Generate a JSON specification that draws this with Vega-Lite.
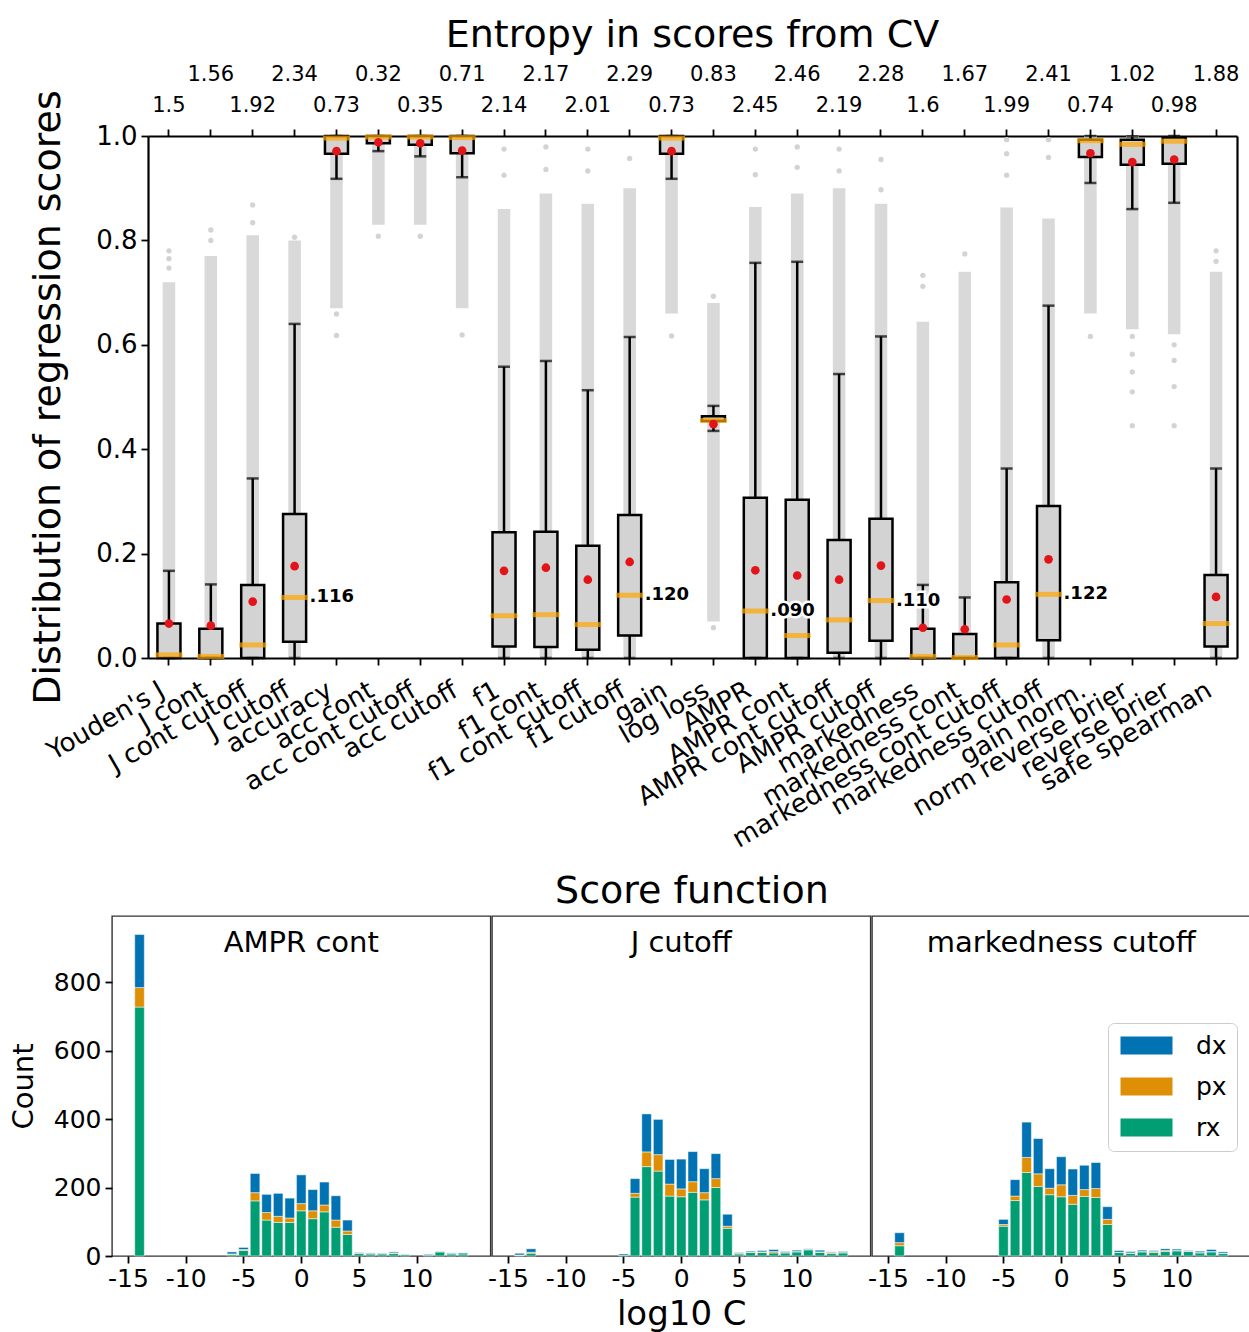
{
"$schema": "https://vega.github.io/schema/vega-lite/v6.json",
"padding": {"left": 8, "top": 17, "right": 0, "bottom": 0},
"params": [
 {"name": "cats", "value": ["Youden's J","J cont","J cont cutoff","J cutoff","accuracy","acc cont","acc cont cutoff","acc cutoff","f1","f1 cont","f1 cont cutoff","f1 cutoff","gain","log loss","AMPR","AMPR cont","AMPR cont cutoff","AMPR cutoff","markedness","markedness cont","markedness cont cutoff","markedness cutoff","gain norm.","norm reverse brier","reverse brier","safe spearman"]},
 {"name": "ent", "value": ["1.5","1.56","1.92","2.34","0.73","0.32","0.35","0.71","2.14","2.17","2.01","2.29","0.73","0.83","2.45","2.46","2.19","2.28","1.6","1.67","1.99","2.41","0.74","1.02","0.98","1.88"]}
],
"datasets": {
 "box": [
  {"c":"Youden's J","wlo":0,"q1":0,"med":0.006,"q3":0.066,"whi":0.167,"mean":0.066,"slo":0,"shi":0.72,"ann":""},
  {"c":"J cont","wlo":0,"q1":0,"med":0.003,"q3":0.056,"whi":0.141,"mean":0.062,"slo":0,"shi":0.77,"ann":""},
  {"c":"J cont cutoff","wlo":0,"q1":0,"med":0.025,"q3":0.14,"whi":0.344,"mean":0.108,"slo":0,"shi":0.81,"ann":""},
  {"c":"J cutoff","wlo":0,"q1":0.031,"med":0.116,"q3":0.276,"whi":0.64,"mean":0.176,"slo":0,"shi":0.8,"ann":".116"},
  {"c":"accuracy","wlo":0.918,"q1":0.966,"med":0.996,"q3":1,"whi":1,"mean":0.971,"slo":0.67,"shi":1,"ann":""},
  {"c":"acc cont","wlo":0.971,"q1":0.986,"med":0.998,"q3":1,"whi":1,"mean":0.988,"slo":0.83,"shi":1,"ann":""},
  {"c":"acc cont cutoff","wlo":0.961,"q1":0.983,"med":0.998,"q3":1,"whi":1,"mean":0.986,"slo":0.83,"shi":1,"ann":""},
  {"c":"acc cutoff","wlo":0.921,"q1":0.967,"med":0.997,"q3":1,"whi":1,"mean":0.972,"slo":0.67,"shi":1,"ann":""},
  {"c":"f1","wlo":0,"q1":0.022,"med":0.081,"q3":0.241,"whi":0.558,"mean":0.167,"slo":0,"shi":0.86,"ann":""},
  {"c":"f1 cont","wlo":0,"q1":0.021,"med":0.083,"q3":0.242,"whi":0.569,"mean":0.173,"slo":0,"shi":0.89,"ann":""},
  {"c":"f1 cont cutoff","wlo":0,"q1":0.016,"med":0.064,"q3":0.215,"whi":0.513,"mean":0.15,"slo":0,"shi":0.87,"ann":""},
  {"c":"f1 cutoff","wlo":0,"q1":0.043,"med":0.12,"q3":0.274,"whi":0.615,"mean":0.184,"slo":0,"shi":0.9,"ann":".120"},
  {"c":"gain","wlo":0.918,"q1":0.966,"med":0.996,"q3":1,"whi":1,"mean":0.971,"slo":0.66,"shi":1,"ann":""},
  {"c":"log loss","wlo":0.435,"q1":0.454,"med":0.455,"q3":0.463,"whi":0.483,"mean":0.448,"slo":0.07,"shi":0.68,"ann":""},
  {"c":"AMPR","wlo":0,"q1":0,"med":0.09,"q3":0.307,"whi":0.757,"mean":0.168,"slo":0,"shi":0.864,"ann":".090"},
  {"c":"AMPR cont","wlo":0,"q1":0,"med":0.043,"q3":0.303,"whi":0.759,"mean":0.158,"slo":0,"shi":0.89,"ann":""},
  {"c":"AMPR cont cutoff","wlo":0,"q1":0.01,"med":0.073,"q3":0.226,"whi":0.544,"mean":0.15,"slo":0,"shi":0.9,"ann":""},
  {"c":"AMPR cutoff","wlo":0,"q1":0.033,"med":0.11,"q3":0.267,"whi":0.616,"mean":0.177,"slo":0,"shi":0.87,"ann":".110"},
  {"c":"markedness","wlo":0,"q1":0,"med":0.003,"q3":0.056,"whi":0.14,"mean":0.058,"slo":0,"shi":0.644,"ann":""},
  {"c":"markedness cont","wlo":0,"q1":0,"med":0.001,"q3":0.046,"whi":0.116,"mean":0.055,"slo":0,"shi":0.74,"ann":""},
  {"c":"markedness cont cutoff","wlo":0,"q1":0,"med":0.025,"q3":0.145,"whi":0.363,"mean":0.112,"slo":0,"shi":0.863,"ann":""},
  {"c":"markedness cutoff","wlo":0,"q1":0.034,"med":0.122,"q3":0.291,"whi":0.675,"mean":0.189,"slo":0,"shi":0.842,"ann":".122"},
  {"c":"gain norm.","wlo":0.91,"q1":0.96,"med":0.991,"q3":0.993,"whi":1,"mean":0.967,"slo":0.66,"shi":1,"ann":""},
  {"c":"norm reverse brier","wlo":0.86,"q1":0.945,"med":0.984,"q3":0.993,"whi":0.999,"mean":0.95,"slo":0.63,"shi":1,"ann":""},
  {"c":"reverse brier","wlo":0.872,"q1":0.947,"med":0.99,"q3":0.997,"whi":1,"mean":0.955,"slo":0.62,"shi":1,"ann":""},
  {"c":"safe spearman","wlo":0,"q1":0.022,"med":0.066,"q3":0.159,"whi":0.363,"mean":0.117,"slo":0,"shi":0.74,"ann":""}
 ],
 "tail": [
  {"c":"Youden's J","v":0.747},{"c":"Youden's J","v":0.765},{"c":"Youden's J","v":0.78},
  {"c":"J cont","v":0.8},{"c":"J cont","v":0.82},
  {"c":"J cont cutoff","v":0.834},{"c":"J cont cutoff","v":0.868},
  {"c":"J cutoff","v":0.806},
  {"c":"accuracy","v":0.659},{"c":"accuracy","v":0.618},
  {"c":"acc cont","v":0.808},
  {"c":"acc cont cutoff","v":0.808},
  {"c":"acc cutoff","v":0.619},
  {"c":"f1","v":0.925},{"c":"f1","v":0.975},
  {"c":"f1 cont","v":0.936},{"c":"f1 cont","v":0.979},
  {"c":"f1 cont cutoff","v":0.933},{"c":"f1 cont cutoff","v":0.975},
  {"c":"f1 cutoff","v":0.957},
  {"c":"gain","v":0.617},
  {"c":"log loss","v":0.058},{"c":"log loss","v":0.693},
  {"c":"AMPR","v":0.926},{"c":"AMPR","v":0.975},
  {"c":"AMPR cont","v":0.94},{"c":"AMPR cont","v":0.979},
  {"c":"AMPR cont cutoff","v":0.933},{"c":"AMPR cont cutoff","v":0.975},
  {"c":"AMPR cutoff","v":0.897},{"c":"AMPR cutoff","v":0.955},
  {"c":"markedness","v":0.712},{"c":"markedness","v":0.733},
  {"c":"markedness cont","v":0.774},
  {"c":"markedness cont cutoff","v":0.925},{"c":"markedness cont cutoff","v":0.966},{"c":"markedness cont cutoff","v":0.993},
  {"c":"markedness cutoff","v":0.959},{"c":"markedness cutoff","v":0.993},
  {"c":"gain norm.","v":0.616},
  {"c":"norm reverse brier","v":0.616},{"c":"norm reverse brier","v":0.582},{"c":"norm reverse brier","v":0.548},{"c":"norm reverse brier","v":0.51},{"c":"norm reverse brier","v":0.445},
  {"c":"reverse brier","v":0.6},{"c":"reverse brier","v":0.57},{"c":"reverse brier","v":0.52},{"c":"reverse brier","v":0.445},
  {"c":"safe spearman","v":0.76},{"c":"safe spearman","v":0.78}
 ],
 "hist": [
  {"p":"A","c":-14,"g":"rx","n":727},{"p":"A","c":-14,"g":"px","n":57},{"p":"A","c":-14,"g":"dx","n":155},
  {"p":"A","c":-6,"g":"rx","n":4},{"p":"A","c":-6,"g":"px","n":2},{"p":"A","c":-6,"g":"dx","n":6},
  {"p":"A","c":-5,"g":"rx","n":16},{"p":"A","c":-5,"g":"px","n":3},{"p":"A","c":-5,"g":"dx","n":6},
  {"p":"A","c":-4,"g":"rx","n":161},{"p":"A","c":-4,"g":"px","n":24},{"p":"A","c":-4,"g":"dx","n":56},
  {"p":"A","c":-3,"g":"rx","n":105},{"p":"A","c":-3,"g":"px","n":22},{"p":"A","c":-3,"g":"dx","n":53},
  {"p":"A","c":-2,"g":"rx","n":98},{"p":"A","c":-2,"g":"px","n":18},{"p":"A","c":-2,"g":"dx","n":67},
  {"p":"A","c":-1,"g":"rx","n":98},{"p":"A","c":-1,"g":"px","n":13},{"p":"A","c":-1,"g":"dx","n":58},
  {"p":"A","c":0,"g":"rx","n":132},{"p":"A","c":0,"g":"px","n":21},{"p":"A","c":0,"g":"dx","n":84},
  {"p":"A","c":1,"g":"rx","n":109},{"p":"A","c":1,"g":"px","n":23},{"p":"A","c":1,"g":"dx","n":62},
  {"p":"A","c":2,"g":"rx","n":129},{"p":"A","c":2,"g":"px","n":20},{"p":"A","c":2,"g":"dx","n":67},
  {"p":"A","c":3,"g":"rx","n":84},{"p":"A","c":3,"g":"px","n":21},{"p":"A","c":3,"g":"dx","n":71},
  {"p":"A","c":4,"g":"rx","n":63},{"p":"A","c":4,"g":"px","n":10},{"p":"A","c":4,"g":"dx","n":32},
  {"p":"A","c":5,"g":"rx","n":7},{"p":"A","c":5,"g":"px","n":1},{"p":"A","c":5,"g":"dx","n":2},
  {"p":"A","c":6,"g":"rx","n":6},{"p":"A","c":6,"g":"px","n":1},{"p":"A","c":6,"g":"dx","n":2},
  {"p":"A","c":7,"g":"rx","n":6},{"p":"A","c":7,"g":"px","n":2},{"p":"A","c":7,"g":"dx","n":1},
  {"p":"A","c":8,"g":"rx","n":7},{"p":"A","c":8,"g":"px","n":2},{"p":"A","c":8,"g":"dx","n":3},
  {"p":"A","c":9,"g":"rx","n":4},{"p":"A","c":9,"g":"dx","n":1},
  {"p":"A","c":11,"g":"rx","n":3},{"p":"A","c":11,"g":"dx","n":2},
  {"p":"A","c":12,"g":"rx","n":12},{"p":"A","c":12,"g":"px","n":1},{"p":"A","c":12,"g":"dx","n":1},
  {"p":"A","c":13,"g":"rx","n":6},{"p":"A","c":13,"g":"px","n":1},{"p":"A","c":13,"g":"dx","n":2},
  {"p":"A","c":14,"g":"rx","n":6},{"p":"A","c":14,"g":"dx","n":3},
  {"p":"J","c":-14,"g":"rx","n":2},{"p":"J","c":-14,"g":"px","n":1},{"p":"J","c":-14,"g":"dx","n":5},
  {"p":"J","c":-13,"g":"rx","n":8},{"p":"J","c":-13,"g":"px","n":3},{"p":"J","c":-13,"g":"dx","n":10},
  {"p":"J","c":-5,"g":"rx","n":2},{"p":"J","c":-5,"g":"dx","n":4},
  {"p":"J","c":-4,"g":"rx","n":172},{"p":"J","c":-4,"g":"px","n":11},{"p":"J","c":-4,"g":"dx","n":43},
  {"p":"J","c":-3,"g":"rx","n":261},{"p":"J","c":-3,"g":"px","n":43},{"p":"J","c":-3,"g":"dx","n":111},
  {"p":"J","c":-2,"g":"rx","n":248},{"p":"J","c":-2,"g":"px","n":48},{"p":"J","c":-2,"g":"dx","n":103},
  {"p":"J","c":-1,"g":"rx","n":175},{"p":"J","c":-1,"g":"px","n":35},{"p":"J","c":-1,"g":"dx","n":72},
  {"p":"J","c":0,"g":"rx","n":173},{"p":"J","c":0,"g":"px","n":23},{"p":"J","c":0,"g":"dx","n":87},
  {"p":"J","c":1,"g":"rx","n":186},{"p":"J","c":1,"g":"px","n":31},{"p":"J","c":1,"g":"dx","n":88},
  {"p":"J","c":2,"g":"rx","n":164},{"p":"J","c":2,"g":"px","n":21},{"p":"J","c":2,"g":"dx","n":70},
  {"p":"J","c":3,"g":"rx","n":200},{"p":"J","c":3,"g":"px","n":26},{"p":"J","c":3,"g":"dx","n":73},
  {"p":"J","c":4,"g":"rx","n":81},{"p":"J","c":4,"g":"px","n":6},{"p":"J","c":4,"g":"dx","n":35},
  {"p":"J","c":5,"g":"rx","n":6},{"p":"J","c":5,"g":"px","n":2},{"p":"J","c":5,"g":"dx","n":2},
  {"p":"J","c":6,"g":"rx","n":10},{"p":"J","c":6,"g":"px","n":1},{"p":"J","c":6,"g":"dx","n":3},
  {"p":"J","c":7,"g":"rx","n":10},{"p":"J","c":7,"g":"px","n":2},{"p":"J","c":7,"g":"dx","n":4},
  {"p":"J","c":8,"g":"rx","n":9},{"p":"J","c":8,"g":"px","n":4},{"p":"J","c":8,"g":"dx","n":6},
  {"p":"J","c":9,"g":"rx","n":9},{"p":"J","c":9,"g":"px","n":1},{"p":"J","c":9,"g":"dx","n":3},
  {"p":"J","c":10,"g":"rx","n":12},{"p":"J","c":10,"g":"px","n":1},{"p":"J","c":10,"g":"dx","n":4},
  {"p":"J","c":11,"g":"rx","n":18},{"p":"J","c":11,"g":"px","n":1},{"p":"J","c":11,"g":"dx","n":2},
  {"p":"J","c":12,"g":"rx","n":11},{"p":"J","c":12,"g":"px","n":1},{"p":"J","c":12,"g":"dx","n":5},
  {"p":"J","c":13,"g":"rx","n":7},{"p":"J","c":13,"g":"px","n":3},{"p":"J","c":13,"g":"dx","n":2},
  {"p":"J","c":14,"g":"rx","n":9},{"p":"J","c":14,"g":"px","n":1},{"p":"J","c":14,"g":"dx","n":3},
  {"p":"M","c":-14,"g":"rx","n":30},{"p":"M","c":-14,"g":"px","n":9},{"p":"M","c":-14,"g":"dx","n":29},
  {"p":"M","c":-5,"g":"rx","n":87},{"p":"M","c":-5,"g":"px","n":5},{"p":"M","c":-5,"g":"dx","n":15},
  {"p":"M","c":-4,"g":"rx","n":162},{"p":"M","c":-4,"g":"px","n":13},{"p":"M","c":-4,"g":"dx","n":48},
  {"p":"M","c":-3,"g":"rx","n":244},{"p":"M","c":-3,"g":"px","n":44},{"p":"M","c":-3,"g":"dx","n":103},
  {"p":"M","c":-2,"g":"rx","n":203},{"p":"M","c":-2,"g":"px","n":37},{"p":"M","c":-2,"g":"dx","n":103},
  {"p":"M","c":-1,"g":"rx","n":179},{"p":"M","c":-1,"g":"px","n":19},{"p":"M","c":-1,"g":"dx","n":57},
  {"p":"M","c":0,"g":"rx","n":173},{"p":"M","c":0,"g":"px","n":35},{"p":"M","c":0,"g":"dx","n":82},
  {"p":"M","c":1,"g":"rx","n":151},{"p":"M","c":1,"g":"px","n":26},{"p":"M","c":1,"g":"dx","n":77},
  {"p":"M","c":2,"g":"rx","n":174},{"p":"M","c":2,"g":"px","n":20},{"p":"M","c":2,"g":"dx","n":71},
  {"p":"M","c":3,"g":"rx","n":171},{"p":"M","c":3,"g":"px","n":26},{"p":"M","c":3,"g":"dx","n":76},
  {"p":"M","c":4,"g":"rx","n":92},{"p":"M","c":4,"g":"px","n":15},{"p":"M","c":4,"g":"dx","n":37},
  {"p":"M","c":5,"g":"rx","n":10},{"p":"M","c":5,"g":"px","n":1},{"p":"M","c":5,"g":"dx","n":5},
  {"p":"M","c":6,"g":"rx","n":8},{"p":"M","c":6,"g":"px","n":1},{"p":"M","c":6,"g":"dx","n":4},
  {"p":"M","c":7,"g":"rx","n":12},{"p":"M","c":7,"g":"px","n":1},{"p":"M","c":7,"g":"dx","n":4},
  {"p":"M","c":8,"g":"rx","n":10},{"p":"M","c":8,"g":"px","n":3},{"p":"M","c":8,"g":"dx","n":3},
  {"p":"M","c":9,"g":"rx","n":13},{"p":"M","c":9,"g":"px","n":3},{"p":"M","c":9,"g":"dx","n":5},
  {"p":"M","c":10,"g":"rx","n":15},{"p":"M","c":10,"g":"px","n":1},{"p":"M","c":10,"g":"dx","n":4},
  {"p":"M","c":11,"g":"rx","n":13},{"p":"M","c":11,"g":"px","n":1},{"p":"M","c":11,"g":"dx","n":2},
  {"p":"M","c":12,"g":"rx","n":9},{"p":"M","c":12,"g":"px","n":1},{"p":"M","c":12,"g":"dx","n":4},
  {"p":"M","c":13,"g":"rx","n":12},{"p":"M","c":13,"g":"px","n":1},{"p":"M","c":13,"g":"dx","n":6},
  {"p":"M","c":14,"g":"rx","n":7},{"p":"M","c":14,"g":"px","n":1},{"p":"M","c":14,"g":"dx","n":4}
 ]
},
"config": {
 "font": "DejaVu Sans",
 "axis": {"grid": false, "domainColor": "black", "tickColor": "black", "labelColor": "black", "titleColor": "black", "titleFontWeight": "normal", "tickWidth": 1.8, "domainWidth": 1.8},
 "title": {"fontWeight": "normal", "color": "black"},
 "view": {"stroke": "black", "strokeWidth": 2.2}
},
"columns": 1,
"align": "none",
"spacing": 20,
"concat": [
  {
   "title": {"text": "Entropy in scores from CV", "fontSize": 38, "frame": "group", "anchor": "middle", "offset": 8, "dx": 18},
   "width": 1125, "height": 522,
   "view": {"stroke": null},
   "resolve": {"axis": {"x": "independent", "y": "independent"}},
   "layer": [
    {"data": {"name": "box"},
     "mark": {"type": "bar", "color": "#d9d9d9", "width": {"band": 0.3}},
     "encoding": {
      "x": {"field": "c", "type": "nominal",
            "scale": {"domain": ["Youden's J","J cont","J cont cutoff","J cutoff","accuracy","acc cont","acc cont cutoff","acc cutoff","f1","f1 cont","f1 cont cutoff","f1 cutoff","gain","log loss","AMPR","AMPR cont","AMPR cont cutoff","AMPR cutoff","markedness","markedness cont","markedness cont cutoff","markedness cutoff","gain norm.","norm reverse brier","reverse brier","safe spearman"], "range": [36, 1125], "paddingInner": 0, "paddingOuter": 0},
            "axis": {"orient": "bottom", "title": null, "labelAngle": -30, "labelAlign": "right", "labelBaseline": "bottom", "labelFontSize": 26, "labelPadding": 34, "labelLimit": 600, "labelOverlap": false, "tickSize": 7, "domain": true, "domainWidth": 2.2}},
      "y": {"field": "slo", "type": "quantitative", "scale": {"domain": [0, 1], "nice": false, "zero": false},
            "axis": {"orient": "left", "offset": -36, "values": [0, 0.2, 0.4, 0.6, 0.8, 1], "format": ".1f", "title": "Distribution of regression scores", "titleFontSize": 38, "labelFontSize": 26, "tickSize": 7, "labelPadding": 4, "titlePadding": 28, "domain": true, "domainWidth": 2.2}},
      "y2": {"field": "shi"}
     }},
    {"data": {"name": "tail"},
     "mark": {"type": "circle", "color": "#d3d3d3", "size": 28, "opacity": 1},
     "encoding": {"x": {"field": "c", "type": "nominal", "axis": null}, "y": {"field": "v", "type": "quantitative", "axis": null}}},
    {"data": {"name": "box"},
     "mark": {"type": "rule", "color": "black", "strokeWidth": 2.5},
     "encoding": {"x": {"field": "c", "type": "nominal", "axis": null},
                  "y": {"field": "wlo", "type": "quantitative", "axis": {"orient": "right", "labels": false, "ticks": false, "title": null, "domain": true, "domainWidth": 2.2}},
                  "y2": {"field": "whi"}}},
    {"data": {"name": "box"},
     "mark": {"type": "bar", "fill": "#d3d3d3", "stroke": "black", "strokeWidth": 2.5, "width": {"band": 0.55}},
     "encoding": {
      "x": {"field": "c", "type": "nominal",
            "axis": {"orient": "top", "title": null, "labelExpr": "ent[indexof(cats, datum.value)]", "labelAngle": 0, "labelFontSize": 21, "labelLineHeight": 31,
                     "labelBaseline": {"condition": {"test": "indexof(cats, datum.value) % 2 == 1", "value": "line-bottom"}, "value": "line-top"},
                     "labelPadding": 40, "labelOverlap": false, "tickSize": 7, "domain": true, "domainWidth": 2.2}},
      "y": {"field": "q1", "type": "quantitative", "axis": null}, "y2": {"field": "q3"}}},
    {"data": {"name": "box"},
     "mark": {"type": "tick", "orient": "horizontal", "color": "black", "size": 12, "thickness": 2.5},
     "encoding": {"x": {"field": "c", "type": "nominal", "axis": null}, "y": {"field": "wlo", "type": "quantitative", "axis": null}}},
    {"data": {"name": "box"},
     "mark": {"type": "tick", "orient": "horizontal", "color": "black", "size": 12, "thickness": 2.5},
     "encoding": {"x": {"field": "c", "type": "nominal", "axis": null}, "y": {"field": "whi", "type": "quantitative", "axis": null}}},
    {"data": {"name": "box"},
     "mark": {"type": "tick", "orient": "horizontal", "color": "#ffa500", "size": 27, "thickness": 5},
     "encoding": {"x": {"field": "c", "type": "nominal", "axis": null}, "y": {"field": "med", "type": "quantitative", "axis": null}}},
    {"data": {"name": "box"},
     "mark": {"type": "circle", "color": "#e2141a", "size": 75, "opacity": 1},
     "encoding": {"x": {"field": "c", "type": "nominal", "axis": null}, "y": {"field": "mean", "type": "quantitative", "axis": null}}},
    {"data": {"name": "box"},
     "transform": [{"filter": "datum.ann != ''"}],
     "mark": {"type": "text", "align": "left", "baseline": "middle", "dx": 15, "fontSize": 18, "fontWeight": "bold", "color": "white", "stroke": "white", "strokeWidth": 5},
     "encoding": {"x": {"field": "c", "type": "nominal", "axis": null}, "y": {"field": "med", "type": "quantitative", "axis": null}, "text": {"field": "ann"}}},
    {"data": {"name": "box"},
     "transform": [{"filter": "datum.ann != ''"}],
     "mark": {"type": "text", "align": "left", "baseline": "middle", "dx": 15, "fontSize": 18, "fontWeight": "bold", "color": "black"},
     "encoding": {"x": {"field": "c", "type": "nominal", "axis": null}, "y": {"field": "med", "type": "quantitative", "axis": null}, "text": {"field": "ann"}}}
   ]
  },
 {
  "title": {"text": "Score function", "fontSize": 38, "anchor": "middle", "offset": 4, "dx": 62},
  "spacing": -9,
  "resolve": {"scale": {"color": "independent"}, "legend": {"color": "independent"}},
  "hconcat": [
   {
    "width": 378.5, "height": 340,
    "view": {"stroke": "#333333", "strokeWidth": 1.4},
    "title": {"text": "AMPR cont", "fontSize": 29, "offset": -42, "anchor": "middle", "frame": "group"},
    "data": {"name": "hist"},
    "transform": [{"filter": "datum.p === 'A'"}],
    "mark": {"type": "bar", "width": 9.6, "stroke": "white", "strokeWidth": 0.5},
    "encoding": {
     "x": {"field": "c", "type": "quantitative", "scale": {"domain": [-15.95, 15.95], "nice": false, "zero": false},
           "axis": {"values": [-15, -10, -5, 0, 5, 10], "labelExpr": "'' + datum.value", "labelFontSize": 25, "title": null, "tickSize": 7, "labelPadding": 3, "domain": false}},
     "y": {"field": "n", "type": "quantitative", "stack": "zero", "scale": {"domain": [0, 993], "nice": false},
           "axis": {"values": [0, 200, 400, 600, 800], "labelFontSize": 25, "title": "Count", "titleFontSize": 29, "tickSize": 7, "labelPadding": 4, "titlePadding": 15, "domain": false}},
     "color": {"field": "g", "type": "nominal", "scale": {"domain": ["dx", "px", "rx"], "range": ["#0173b2", "#de8f05", "#029e73"]}, "legend": null},
     "order": {"field": "g", "sort": "descending"}
    }
   },
   {
    "width": 378.5, "height": 340,
    "view": {"stroke": "#333333", "strokeWidth": 1.4},
    "title": {"text": "J cutoff", "fontSize": 29, "offset": -42, "anchor": "middle", "frame": "group"},
    "data": {"name": "hist"},
    "transform": [{"filter": "datum.p === 'J'"}],
    "mark": {"type": "bar", "width": 9.6, "stroke": "white", "strokeWidth": 0.5},
    "encoding": {
     "x": {"field": "c", "type": "quantitative", "scale": {"domain": [-15.95, 15.95], "nice": false, "zero": false},
           "axis": {"values": [-15, -10, -5, 0, 5, 10], "labelExpr": "'' + datum.value", "labelFontSize": 25, "title": "log10 C", "titleFontSize": 34, "titlePadding": 6, "tickSize": 7, "labelPadding": 3, "domain": false}},
     "y": {"field": "n", "type": "quantitative", "stack": "zero", "scale": {"domain": [0, 993], "nice": false}, "axis": null},
     "color": {"field": "g", "type": "nominal", "scale": {"domain": ["dx", "px", "rx"], "range": ["#0173b2", "#de8f05", "#029e73"]}, "legend": null},
     "order": {"field": "g", "sort": "descending"}
    }
   },
   {
    "width": 378.5, "height": 340,
    "view": {"stroke": "#333333", "strokeWidth": 1.4},
    "title": {"text": "markedness cutoff", "fontSize": 29, "offset": -42, "anchor": "middle", "frame": "group"},
    "data": {"name": "hist"},
    "transform": [{"filter": "datum.p === 'M'"}],
    "mark": {"type": "bar", "width": 9.6, "stroke": "white", "strokeWidth": 0.5},
    "encoding": {
     "x": {"field": "c", "type": "quantitative", "scale": {"domain": [-15.95, 15.95], "nice": false, "zero": false},
           "axis": {"values": [-15, -10, -5, 0, 5, 10], "labelExpr": "'' + datum.value", "labelFontSize": 25, "title": null, "tickSize": 7, "labelPadding": 3, "domain": false}},
     "y": {"field": "n", "type": "quantitative", "stack": "zero", "scale": {"domain": [0, 993], "nice": false}, "axis": null},
     "color": {"field": "g", "type": "nominal", "scale": {"domain": ["dx", "px", "rx"], "range": ["#0173b2", "#de8f05", "#029e73"]},
               "legend": {"orient": "none", "legendX": 236, "legendY": 107, "title": null, "fillColor": "white", "strokeColor": "#cccccc", "cornerRadius": 6, "padding": 10, "symbolType": "M-1,-0.9H4.2V0.9H-1Z", "symbolSize": 400, "symbolStrokeWidth": 0, "symbolOpacity": 1, "labelFontSize": 25, "labelOffset": 53, "rowPadding": 15}},
     "order": {"field": "g", "sort": "descending"}
    }
   }
  ]
 }
]
}
